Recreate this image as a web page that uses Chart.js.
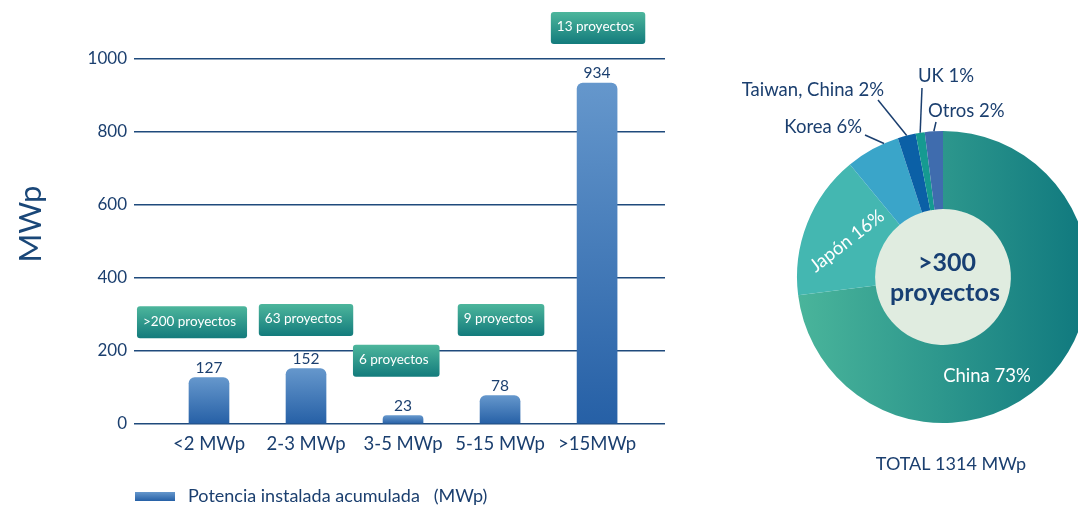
<!DOCTYPE html>
<html><head><meta charset="utf-8">
<script src="https://cdn.jsdelivr.net/npm/chart.js@4.4.1/dist/chart.umd.min.js"></script>
<style>
html,body{margin:0;padding:0;background:#fff;overflow:hidden;width:1078px;height:505px;position:relative}
#bar{position:absolute;left:0;top:0}
#pie{position:absolute;left:690px;top:0}
</style></head><body>
<canvas id="bar" width="690" height="505"></canvas>
<canvas id="pie" width="420" height="505"></canvas>
<script>
// ---- data ----
const categories = ['<2 MWp', '2-3 MWp', '3-5 MWp', '5-15 MWp', '>15MWp'];
const installedMWp = [127, 152, 23, 78, 934];
const projectTags = ['>200 proyectos', '63 proyectos', '6 proyectos', '9 proyectos', '13 proyectos'];
const yTickValues = [0, 200, 400, 600, 800, 1000];
const seriesName = 'Potencia instalada acumulada   (MWp)';
const yTitle = 'MWp';
const countries = ['China', 'Japón', 'Korea', 'Taiwan, China', 'UK', 'Otros'];
const sharesPct = [73, 16, 6, 2, 1, 2];
const centerText = ['>300', 'proyectos'];
const totalText = 'TOTAL 1314 MWp';

const FONT = 'Lato, "Open Sans", sans-serif';
const NAVY = '#1b3f6f';

function draw() {
  // ---------- bar chart ----------
  const barGradient = (c, top, base) => {
    const g = c.createLinearGradient(0, top, 0, base);
    g.addColorStop(0, '#6597cc');
    g.addColorStop(1, '#2660a6');
    return g;
  };

  const barPlugin = {
    id: 'barDecor',
    afterDatasetsDraw(chart, args, opts) {
      const c = chart.ctx, xs = chart.scales.x, ys = chart.scales.y;
      const meta = chart.getDatasetMeta(0);
      c.save();
      // value labels
      c.fillStyle = NAVY;
      c.font = '15.5px ' + FONT;
      c.textAlign = 'center';
      c.textBaseline = 'bottom';
      meta.data.forEach((el, i) => c.fillText(String(installedMWp[i]), el.x, el.y - 2));
      // project tags
      c.font = '13.5px ' + FONT;
      projectTags.forEach((t, i) => {
        const [dx, yv] = opts.tagAt[i];
        const cx = xs.getPixelForValue(i + dx);
        const cy = ys.getPixelForValue(yv);
        const w = c.measureText(t).width + 17, h = opts.tagHeight;
        const l = cx - w / 2, tp = cy - h / 2;
        const g = c.createLinearGradient(0, tp, 0, tp + h);
        g.addColorStop(0, '#4db69c');
        g.addColorStop(1, '#137b7c');
        c.fillStyle = g;
        c.beginPath();
        if (c.roundRect) c.roundRect(l, tp, w, h, 3); else c.rect(l, tp, w, h);
        c.fill();
        c.fillStyle = '#ffffff';
        c.textAlign = 'left';
        c.textBaseline = 'middle';
        c.fillText(t, l + 6, cy - 1);
      });
      // y title
      c.save();
      c.translate(opts.titleX, opts.titleY);
      c.rotate(-Math.PI / 2);
      c.fillStyle = '#1a4778';
      c.font = '31px ' + FONT;
      c.textAlign = 'center';
      c.textBaseline = 'middle';
      c.fillText(yTitle, 0, 0);
      c.restore();
      // legend
      const [lx, ly] = opts.legendAt;
      c.fillStyle = barGradient(c, ly, ly + 9);
      c.fillRect(lx, ly, 40, 9);
      c.fillStyle = NAVY;
      c.font = '18px ' + FONT;
      c.textAlign = 'left';
      c.textBaseline = 'middle';
      c.fillText(seriesName, lx + 53, ly + 4);
      c.restore();
    }
  };

  new Chart(document.getElementById('bar'), {
    type: 'bar',
    data: {
      datasets: [{
        label: seriesName,
        data: installedMWp.map((v, i) => ({ x: i, y: v })),
        backgroundColor: (ctx) => {
          const ch = ctx.chart;
          if (!ch.chartArea || ctx.type !== 'data') return '#3e72b5';
          const ys = ch.scales.y;
          return barGradient(ch.ctx, ys.getPixelForValue(ctx.parsed.y), ys.getPixelForValue(0));
        },
        borderWidth: 0,
        borderRadius: { topLeft: 6, topRight: 6, bottomLeft: 0, bottomRight: 0 },
        borderSkipped: 'start',
        barThickness: 40
      }]
    },
    options: {
      responsive: false,
      animation: false,
      layout: { padding: { left: 0, right: 25, top: 59, bottom: 0 } },
      plugins: {
        legend: { display: false },
        tooltip: { enabled: false },
        barDecor: {
          tagAt: [[-0.175, 279], [0, 285], [-0.07, 173], [0.01, 285], [0.01, 1085]],
          tagHeight: 32,
          titleX: 31, titleY: 224,
          legendAt: [135, 492]
        }
      },
      scales: {
        x: {
          type: 'linear',
          offset: false,
          min: -0.773, max: 4.70,
          afterBuildTicks: (s) => { s.ticks = categories.map((_, i) => ({ value: i })); },
          afterFit: (s) => { s.height = 81; },
          grid: { display: false, drawTicks: false },
          border: { display: false },
          ticks: {
            autoSkip: false, maxRotation: 0, padding: 9,
            color: NAVY, font: { family: FONT, size: 18.5 },
            callback: (v) => categories[v]
          }
        },
        y: {
          min: 0, max: 1000,
          afterBuildTicks: (s) => { s.ticks = yTickValues.map(v => ({ value: v })); },
          afterFit: (s) => { s.width = 134; },
          grid: { color: '#1f4a7c', lineWidth: 1.5, drawTicks: false },
          border: { display: false },
          ticks: { padding: 7, color: NAVY, font: { family: FONT, size: 17 }, callback: (v) => String(v) }
        }
      }
    },
    plugins: [barPlugin]
  });

  // ---------- doughnut ----------
  const sliceColors = [null, '#44b7b1', '#3aa5c9', '#0b60a6', '#159a91', '#3f6cae'];

  const piePlugin = {
    id: 'pieDecor',
    beforeDatasetsDraw(chart) {
      const el = chart.getDatasetMeta(0).data[0];
      const c = chart.ctx;
      c.save();
      c.fillStyle = '#e0ece0';
      c.beginPath();
      c.arc(el.x, el.y, el.innerRadius + 0.5, 0, Math.PI * 2);
      c.fill();
      c.restore();
    },
    afterDatasetsDraw(chart, args, opts) {
      const c = chart.ctx;
      const els = chart.getDatasetMeta(0).data;
      const cx = els[0].x, cy = els[0].y;
      c.save();
      // outside labels with leader lines
      Object.keys(opts.outside).forEach((k) => {
        const i = +k, o = opts.outside[k], el = els[i];
        const a = el.startAngle + (el.endAngle - el.startAngle) * o.frac;
        const sx = cx + Math.cos(a) * el.outerRadius, sy = cy + Math.sin(a) * el.outerRadius;
        c.strokeStyle = NAVY;
        c.lineWidth = 1.5;
        c.beginPath();
        c.moveTo(sx, sy);
        c.lineTo(cx + o.end[0], cy + o.end[1]);
        c.stroke();
        c.fillStyle = NAVY;
        c.font = '18.5px ' + FONT;
        c.textAlign = o.align;
        c.textBaseline = 'middle';
        c.fillText(countries[i] + ' ' + sharesPct[i] + '%', cx + o.text[0], cy + o.text[1]);
      });
      // inside labels
      Object.keys(opts.inside).forEach((k) => {
        const i = +k, o = opts.inside[k];
        c.save();
        c.translate(cx + o.at[0], cy + o.at[1]);
        c.rotate(o.rot * Math.PI / 180);
        c.fillStyle = '#ffffff';
        c.font = '18.5px ' + FONT;
        c.textAlign = 'center';
        c.textBaseline = 'middle';
        c.fillText(countries[i] + ' ' + sharesPct[i] + '%', 0, 0);
        c.restore();
      });
      // centre text
      c.fillStyle = '#173f73';
      c.font = 'bold 25px ' + FONT;
      c.textAlign = 'center';
      c.textBaseline = 'middle';
      c.fillText(centerText[0], cx + 4, cy - 14);
      c.fillText(centerText[1], cx + 2, cy + 16);
      // total
      c.font = '18px ' + FONT;
      c.fillStyle = NAVY;
      c.fillText(totalText, cx + 8, cy + 187);
      c.restore();
    }
  };

  new Chart(document.getElementById('pie'), {
    type: 'doughnut',
    data: {
      labels: countries,
      datasets: [{
        data: sharesPct,
        borderWidth: 0,
        backgroundColor: (ctx) => {
          if (ctx.dataIndex !== 0) return sliceColors[ctx.dataIndex];
          const a = ctx.chart.chartArea;
          if (!a) return '#2a9a8e';
          const g = ctx.chart.ctx.createLinearGradient(a.left, 0, a.right, 0);
          g.addColorStop(0, '#4ab59b');
          g.addColorStop(1, '#0f787e');
          return g;
        }
      }]
    },
    options: {
      responsive: false,
      animation: false,
      cutout: '46.5%',
      layout: { padding: { left: 107, right: 21, top: 131, bottom: 82 } },
      plugins: {
        legend: { display: false },
        tooltip: { enabled: false },
        pieDecor: {
          outside: {
            2: { frac: 0.73, end: [-78, -142], text: [-81, -150], align: 'right' },
            3: { frac: 0.5, end: [-65, -177], text: [-59, -187], align: 'right' },
            4: { frac: 0.5, end: [-21, -189], text: [-25, -201], align: 'left' },
            5: { frac: 0.5, end: [-7, -155], text: [-15, -166], align: 'left' }
          },
          inside: {
            1: { at: [-96, -36], rot: -38 },
            0: { at: [44, 99], rot: 0 }
          }
        }
      }
    },
    plugins: [piePlugin]
  });
}

if (document.fonts && document.fonts.load) {
  Promise.all([document.fonts.load('16px Lato'), document.fonts.load('bold 25px Lato')])
    .then(draw, draw);
} else { draw(); }
</script>
</body></html>
